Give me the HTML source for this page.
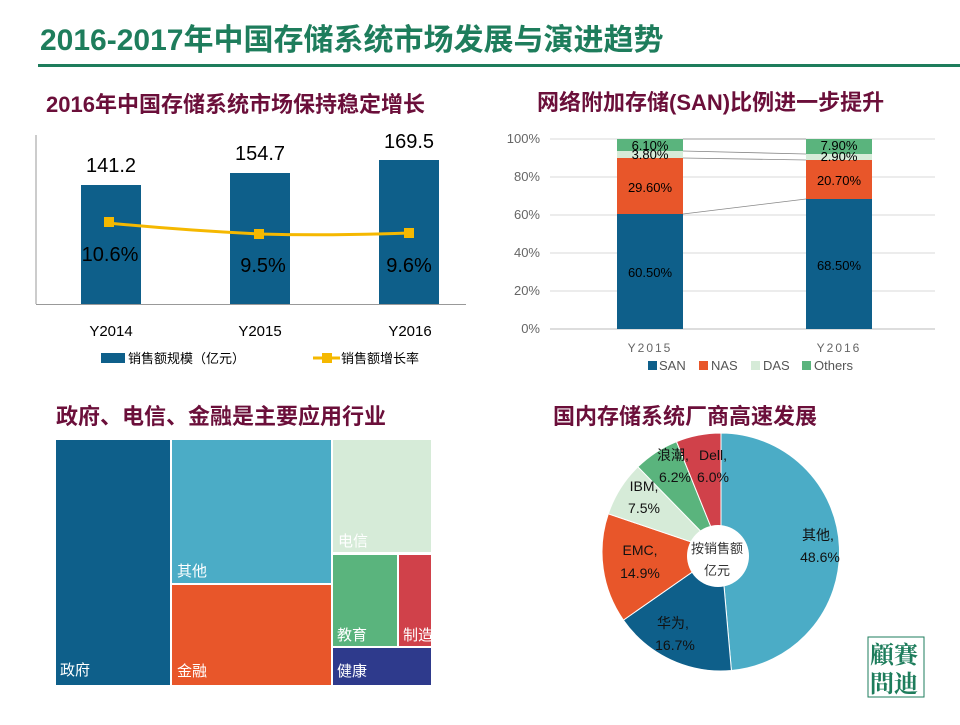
<!DOCTYPE html>
<html><head><meta charset="utf-8"><style>
body{margin:0;width:960px;height:720px;background:#fff;overflow:hidden;font-family:"Liberation Sans","Noto Sans CJK SC",sans-serif}
</style></head><body>
<svg width="960" height="720" xmlns="http://www.w3.org/2000/svg" font-family="Liberation Sans, Noto Sans CJK SC, sans-serif">
<text x="40" y="50" font-size="30" font-weight="bold" fill="#1e7d5c">2016-2017年中国存储系统市场发展与演进趋势</text>
<rect x="38" y="64" width="922" height="3" fill="#1e7d5c"/>
<g font-size="22" font-weight="bold" fill="#6b0f3a">
<text x="46" y="112">2016年中国存储系统市场保持稳定增长</text>
<text x="537" y="110">网络附加存储(SAN)比例进一步提升</text>
<text x="56" y="424">政府、电信、金融是主要应用行业</text>
<text x="553" y="424">国内存储系统厂商高速发展</text>
</g>
<!-- chart1 -->
<line x1="36" y1="135" x2="36" y2="304" stroke="#999"/>
<line x1="36" y1="304.5" x2="466" y2="304.5" stroke="#999"/>
<g fill="#0e5f8a">
<rect x="81" y="185" width="60" height="119"/>
<rect x="230" y="173" width="60" height="131"/>
<rect x="379" y="160" width="60" height="144"/>
</g>
<g font-size="20" fill="#000" text-anchor="middle">
<text x="111" y="172">141.2</text><text x="260" y="160">154.7</text><text x="409" y="148">169.5</text>
<text x="110" y="261">10.6%</text><text x="263" y="272">9.5%</text><text x="409" y="272">9.6%</text>
</g>
<path d="M108 223 Q180 230 259 234 Q330 236 409 233" fill="none" stroke="#f5b800" stroke-width="3"/>
<rect x="104" y="217" width="10" height="10" fill="#f5b800"/>
<rect x="254" y="229" width="10" height="10" fill="#f5b800"/>
<rect x="404" y="228" width="10" height="10" fill="#f5b800"/>
<g font-size="15" fill="#000" text-anchor="middle">
<text x="111" y="336">Y2014</text><text x="260" y="336">Y2015</text><text x="410" y="336">Y2016</text>
</g>
<rect x="101" y="353" width="24" height="10" fill="#0e5f8a"/>
<text x="128" y="363" font-size="13">销售额规模（亿元）</text>
<line x1="313" y1="358" x2="340" y2="358" stroke="#f5b800" stroke-width="3"/>
<rect x="322" y="353" width="10" height="10" fill="#f5b800"/>
<text x="341" y="363" font-size="13">销售额增长率</text>
<!-- chart2 -->
<g stroke="#d9d9d9">
<line x1="550" y1="139" x2="935" y2="139"/><line x1="550" y1="177" x2="935" y2="177"/>
<line x1="550" y1="215" x2="935" y2="215"/><line x1="550" y1="253" x2="935" y2="253"/>
<line x1="550" y1="291" x2="935" y2="291"/><line x1="550" y1="329" x2="935" y2="329" stroke="#bbb"/>
</g>
<g font-size="13" fill="#666" text-anchor="end">
<text x="540" y="143">100%</text><text x="540" y="181">80%</text><text x="540" y="219">60%</text>
<text x="540" y="257">40%</text><text x="540" y="295">20%</text><text x="540" y="333">0%</text>
</g>
<rect x="617" y="214" width="66" height="115" fill="#0e5f8a"/>
<rect x="617" y="158" width="66" height="56" fill="#e8562a"/>
<rect x="617" y="151" width="66" height="7" fill="#d6ebd8"/>
<rect x="617" y="139" width="66" height="12" fill="#5ab47d"/>
<rect x="806" y="199" width="66" height="130" fill="#0e5f8a"/>
<rect x="806" y="160" width="66" height="39" fill="#e8562a"/>
<rect x="806" y="154" width="66" height="6" fill="#d6ebd8"/>
<rect x="806" y="139" width="66" height="15" fill="#5ab47d"/>
<g stroke="#888" stroke-width="0.8">
<line x1="683" y1="139" x2="806" y2="139"/><line x1="683" y1="151" x2="806" y2="154"/>
<line x1="683" y1="158" x2="806" y2="160"/><line x1="683" y1="214" x2="806" y2="199"/>
</g>
<g font-size="13" fill="#000" text-anchor="middle">
<text x="650" y="150">6.10%</text><text x="650" y="159">3.80%</text><text x="650" y="192">29.60%</text><text x="650" y="277">60.50%</text>
<text x="839" y="150">7.90%</text><text x="839" y="161">2.90%</text><text x="839" y="185">20.70%</text><text x="839" y="270">68.50%</text>
</g>
<g font-size="12" fill="#666" text-anchor="middle" letter-spacing="2">
<text x="650" y="352">Y2015</text><text x="839" y="352">Y2016</text>
</g>
<g font-size="13" fill="#555">
<rect x="648" y="361" width="9" height="9" fill="#0e5f8a"/><text x="659" y="370">SAN</text>
<rect x="699" y="361" width="9" height="9" fill="#e8562a"/><text x="711" y="370">NAS</text>
<rect x="751" y="361" width="9" height="9" fill="#d6ebd8"/><text x="763" y="370">DAS</text>
<rect x="802" y="361" width="9" height="9" fill="#5ab47d"/><text x="814" y="370">Others</text>
</g>
<!-- treemap -->
<rect x="56" y="440" width="114" height="245" fill="#0e5f8a"/>
<rect x="172" y="440" width="159" height="143" fill="#4bacc6"/>
<rect x="333" y="440" width="98" height="112" fill="#d6ebd8"/>
<rect x="172" y="585" width="159" height="100" fill="#e8562a"/>
<rect x="333" y="555" width="64" height="91" fill="#5ab47d"/>
<rect x="399" y="555" width="32" height="91" fill="#d0414a"/>
<rect x="333" y="648" width="98" height="37" fill="#2e3a8c"/>
<g font-size="15" fill="#fff">
<text x="60" y="675">政府</text><text x="177" y="576">其他</text><text x="338" y="546">电信</text>
<text x="177" y="676">金融</text><text x="337" y="640">教育</text><text x="403" y="640">制造</text><text x="337" y="676">健康</text>
</g>
<!-- pie -->
<path d="M721 552 L721 433 A119 119 0 0 1 731.4 670.5 Z" fill="#4bacc6" stroke="#fff"/>
<path d="M721 552 L731.4 670.5 A119 119 0 0 1 623.4 620.1 Z" fill="#0e5f8a" stroke="#fff"/>
<path d="M721 552 L623.4 620.1 A119 119 0 0 1 608.3 513.8 Z" fill="#e8562a" stroke="#fff"/>
<path d="M721 552 L608.3 513.8 A119 119 0 0 1 637.9 466.8 Z" fill="#d6ebd8" stroke="#fff"/>
<path d="M721 552 L637.9 466.8 A119 119 0 0 1 676.5 441.6 Z" fill="#5ab47d" stroke="#fff"/>
<path d="M721 552 L676.5 441.6 A119 119 0 0 1 721 433 Z" fill="#d0414a" stroke="#fff"/>
<circle cx="718" cy="556" r="31" fill="#fff"/>
<g font-size="13" fill="#333" text-anchor="middle">
<text x="717" y="553">按销售额</text><text x="717" y="575">亿元</text>
</g>
<g font-size="14" fill="#111" text-anchor="middle">
<text x="673" y="460">浪潮,</text><text x="675" y="482">6.2%</text>
<text x="713" y="460">Dell,</text><text x="713" y="482">6.0%</text>
<text x="644" y="491">IBM,</text><text x="644" y="513">7.5%</text>
<text x="640" y="555">EMC,</text><text x="640" y="578">14.9%</text>
<text x="673" y="628">华为,</text><text x="675" y="650">16.7%</text>
<text x="818" y="540">其他,</text><text x="820" y="562">48.6%</text>
</g>
<!-- logo -->
<rect x="868" y="637" width="56" height="60" fill="none" stroke="#1e7d5c" stroke-width="1"/>
<g font-size="24" font-weight="bold" fill="#1e7d5c" font-family="Noto Serif CJK SC, serif">
<text x="870" y="663">顧賽</text><text x="870" y="692">問迪</text>
</g>
</svg>
</body></html>
